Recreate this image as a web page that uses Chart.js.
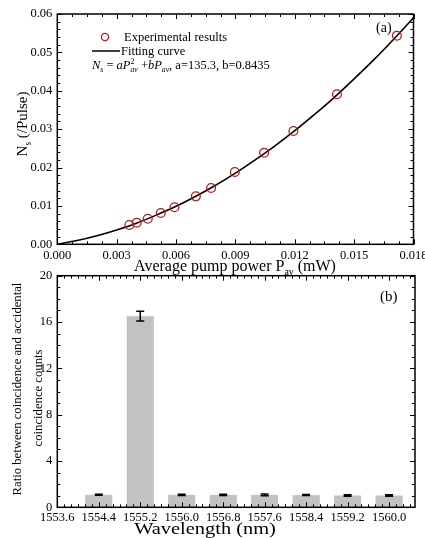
<!DOCTYPE html>
<html>
<head>
<meta charset="utf-8">
<script src="https://cdn.jsdelivr.net/npm/chart.js@4/dist/chart.umd.min.js"></script>
<style>
  html, body { margin: 0; padding: 0; background: #fff; }
  #wrap { position: relative; width: 425px; height: 538px; overflow: hidden; }
  canvas { position: absolute; left: 0; }
  #power-chart { top: 0; }
  #ratio-chart { top: 262px; }
</style>
</head>
<body>
<div id="wrap">
  <canvas id="power-chart" width="425" height="276"></canvas>
  <canvas id="ratio-chart" width="425" height="276"></canvas>
</div>
<script>
// (a) experimental points
const powerMw = [0.00364, 0.00401, 0.00457, 0.00523, 0.00592, 0.00700, 0.00777, 0.00897, 0.01045, 0.01193, 0.01413, 0.01716];
const photonsPerPulse = [0.00503, 0.00563, 0.00667, 0.00815, 0.00964, 0.0125, 0.01467, 0.01884, 0.02387, 0.02952, 0.03908, 0.05435];

// (a) fitting curve
const fitPower = [0, 0.001, 0.002, 0.003, 0.004, 0.005, 0.006, 0.007, 0.008, 0.009, 0.010, 0.011, 0.012, 0.013, 0.014, 0.015, 0.016, 0.017, 0.018];
const fitPhotons = [0, 0.00098, 0.00223, 0.00375, 0.0055, 0.0076, 0.0099, 0.01253, 0.0154, 0.01855, 0.0220, 0.02565, 0.0296, 0.03384, 0.0383, 0.0431, 0.0481, 0.05344, 0.0590];

const powerTicks = [0, 0.003, 0.006, 0.009, 0.012, 0.015, 0.018];
const photonTicks = [0, 0.01, 0.02, 0.03, 0.04, 0.05, 0.06];

// (b) coincidence / accidental ratio
const wavelengths = [1554.4, 1555.2, 1556.0, 1556.8, 1557.6, 1558.4, 1559.2, 1560.0];
const ratios = [1.08, 16.5, 1.07, 1.07, 1.07, 1.06, 1.02, 1.02];
const ratioErr = [0.05, 0.42, 0.06, 0.06, 0.07, 0.05, 0.06, 0.06];

const wavelengthTicks = [1553.6, 1554.4, 1555.2, 1556.0, 1556.8, 1557.6, 1558.4, 1559.2, 1560.0];
const ratioTicks = [0, 4, 8, 12, 16, 20];

const SERIF = "'Liberation Serif', 'Times New Roman', serif";

function layoutRich(ctx, parts, size) {
  let x = 0, prevStart = 0, prevEnd = 0;
  const items = [];
  parts.forEach((p) => {
    const fs = p.pos ? size * 0.62 : size;
    ctx.font = (p.it ? "italic " : "") + fs + "px " + SERIF;
    const w = ctx.measureText(p.t).width;
    const start = p.stack ? prevStart : x;
    items.push({ t: p.t, pos: p.pos, font: ctx.font, x: start });
    const end = start + w;
    x = p.stack ? Math.max(prevEnd, end) : end;
    prevStart = start;
    prevEnd = end;
  });
  return { items, width: x };
}

// sx stretches the text sideways (the original figure is a bit wide)
function drawRich(ctx, parts, x, y, size, align, sx) {
  sx = sx || 1;
  const lay = layoutRich(ctx, parts, size);
  const off = align === "center" ? -lay.width / 2 : 0;
  ctx.save();
  ctx.translate(x, y);
  ctx.scale(sx, 1);
  ctx.textAlign = "left";
  ctx.textBaseline = "alphabetic";
  ctx.fillStyle = "#000";
  lay.items.forEach((it) => {
    ctx.font = it.font;
    let dy = 0;
    if (it.pos === "sub") dy = size * 0.28;
    if (it.pos === "sup") dy = -size * 0.42;
    ctx.fillText(it.t, off + it.x, dy);
  });
  ctx.restore();
}

function drawRotated(ctx, parts, cx, cy, size) {
  ctx.save();
  ctx.translate(cx, cy);
  ctx.rotate(-Math.PI / 2);
  drawRich(ctx, parts, 0, size * 0.33, size, "center");
  ctx.restore();
}

// inward major + minor ticks on all four sides, plus the frame
const frameTicks = {
  id: "frameTicks",
  afterDatasetsDraw(chart, args, opts) {
    const ctx = chart.ctx;
    const a = chart.chartArea;
    const xs = chart.scales.x, ys = chart.scales.y;
    ctx.save();
    ctx.strokeStyle = "#000";
    ctx.lineWidth = 1;

    const xMaj = xs.ticks.map((t) => t.value);
    const yMaj = ys.ticks.map((t) => t.value);
    const xStep = (xMaj[1] - xMaj[0]) / opts.xSub;
    const yStep = (yMaj[1] - yMaj[0]) / opts.ySub;

    const tick = (x1, y1, x2, y2) => {
      ctx.beginPath();
      ctx.moveTo(x1, y1);
      ctx.lineTo(x2, y2);
      ctx.stroke();
    };

    for (let v = xs.min, k = 0; v <= xs.max + 1e-9; k++, v = xMaj[0] + k * xStep) {
      if (v < xs.min - 1e-9) continue;
      const px = Math.round(xs.getPixelForValue(v)) + 0.5;
      const len = k % opts.xSub === 0 ? 5 : 3;
      tick(px, a.bottom, px, a.bottom - len);
      tick(px, a.top, px, a.top + len);
    }
    for (let v = ys.min, k = 0; v <= ys.max + 1e-9; k++, v = yMaj[0] + k * yStep) {
      const py = Math.round(ys.getPixelForValue(v)) + 0.5;
      const len = k % opts.ySub === 0 ? 5 : 3;
      tick(a.left, py, a.left + len, py);
      tick(a.right, py, a.right - len, py);
    }

    ctx.lineWidth = 1.5;
    ctx.strokeRect(a.left, a.top, a.right - a.left, a.bottom - a.top);
    ctx.restore();
  }
};

function fixedAxis(width, height) {
  return function (scale) {
    if (width != null) scale.width = width;
    if (height != null) scale.height = height;
    scale.paddingLeft = 0;
    scale.paddingRight = 0;
    scale.paddingTop = 0;
    scale.paddingBottom = 0;
  };
}

function buildPowerChart() {
  const canvas = document.getElementById("power-chart");

  const labels = {
    id: "powerLabels",
    afterDraw(chart) {
      const ctx = chart.ctx;
      ctx.save();
      // axis titles
      drawRich(ctx, [
        { t: "Average pump power P" },
        { t: "av", pos: "sub" },
        { t: " (mW)" }
      ], 235, 271, 16, "center");
      drawRotated(ctx, [
        { t: "N" },
        { t: "s", pos: "sub" },
        { t: " (/Pulse)" }
      ], 22, 124, 15);

      // legend
      ctx.strokeStyle = "#b01c1c";
      ctx.lineWidth = 1.3;
      ctx.beginPath();
      ctx.arc(105, 37, 3.6, 0, Math.PI * 2);
      ctx.stroke();
      drawRich(ctx, [{ t: "Experimental results" }], 124, 41, 12.5, "left");
      ctx.strokeStyle = "#000";
      ctx.lineWidth = 1.5;
      ctx.beginPath();
      ctx.moveTo(92, 51);
      ctx.lineTo(120, 51);
      ctx.stroke();
      drawRich(ctx, [{ t: "Fitting curve" }], 121, 55, 12.5, "left");
      drawRich(ctx, [
        { t: "N", it: true },
        { t: "s", it: true, pos: "sub" },
        { t: " = " },
        { t: "aP", it: true },
        { t: "2", pos: "sup" },
        { t: "av", it: true, pos: "sub", stack: true },
        { t: " +" },
        { t: "bP", it: true },
        { t: "av", it: true, pos: "sub" },
        { t: ", a=135.3, b=0.8435" }
      ], 92, 69, 12, "left", 1.04);

      drawRich(ctx, [{ t: "(a)" }], 376, 32, 14, "left");
      ctx.restore();
    }
  };

  new Chart(canvas, {
    data: {
      datasets: [
        {
          type: "line",
          label: "Fitting curve",
          data: fitPower.map((x, i) => ({ x: x, y: fitPhotons[i] })),
          borderColor: "#000",
          borderWidth: 1.6,
          pointRadius: 0,
          cubicInterpolationMode: "monotone",
          fill: false,
          order: 2
        },
        {
          type: "scatter",
          label: "Experimental results",
          data: powerMw.map((x, i) => ({ x: x, y: photonsPerPulse[i] })),
          borderColor: "#b01c1c",
          backgroundColor: "rgba(0,0,0,0)",
          borderWidth: 1.3,
          pointRadius: 4.4,
          order: 1
        }
      ]
    },
    options: {
      responsive: false,
      animation: false,
      layout: { padding: { top: 14, right: 11.5, left: 0, bottom: 0 } },
      scales: {
        x: {
          type: "linear",
          min: 0,
          max: 0.018,
          afterBuildTicks: (s) => { s.ticks = powerTicks.map((v) => ({ value: v })); },
          afterFit: fixedAxis(null, 31.7),
          grid: { display: false, drawTicks: false },
          border: { display: false },
          ticks: {
            padding: 4,
            maxRotation: 0,
            autoSkip: false,
            color: "#000",
            font: { family: SERIF, size: 12.5 },
            callback: (v) => Number(v).toFixed(3)
          }
        },
        y: {
          type: "linear",
          min: 0,
          max: 0.06,
          afterBuildTicks: (s) => { s.ticks = photonTicks.map((v) => ({ value: v })); },
          afterFit: fixedAxis(57.3, null),
          grid: { display: false, drawTicks: false },
          border: { display: false },
          ticks: {
            padding: 5,
            autoSkip: false,
            color: "#000",
            font: { family: SERIF, size: 12.5 },
            callback: (v) => Number(v).toFixed(2)
          }
        }
      },
      plugins: {
        legend: { display: false },
        tooltip: { enabled: false },
        frameTicks: { xSub: 4, ySub: 5 }
      }
    },
    plugins: [frameTicks, labels]
  });
}

function buildRatioChart() {
  const canvas = document.getElementById("ratio-chart");

  const extras = {
    id: "ratioExtras",
    afterDatasetsDraw(chart) {
      const ctx = chart.ctx;
      const xs = chart.scales.x, ys = chart.scales.y;
      ctx.save();
      ctx.strokeStyle = "#000";
      ctx.lineWidth = 1.5;
      wavelengths.forEach((w, i) => {
        const px = xs.getPixelForValue(w);
        const top = ys.getPixelForValue(ratios[i] + ratioErr[i]);
        const bot = ys.getPixelForValue(ratios[i] - ratioErr[i]);
        ctx.beginPath();
        ctx.moveTo(px, top);
        ctx.lineTo(px, bot);
        ctx.moveTo(px - 4, top);
        ctx.lineTo(px + 4, top);
        ctx.moveTo(px - 4, bot);
        ctx.lineTo(px + 4, bot);
        ctx.stroke();
      });
      ctx.restore();
    },
    afterDraw(chart) {
      const ctx = chart.ctx;
      ctx.save();
      drawRich(ctx, [{ t: "Wavelength (nm)" }], 205, 272, 17, "center", 1.2);
      drawRotated(ctx, [{ t: "Ratio between coincidence and accidental" }], 17, 127, 12.7);
      drawRotated(ctx, [{ t: "coincidence counts" }], 38, 136, 12.7);
      drawRich(ctx, [{ t: "(b)" }], 380, 39, 15, "left");
      ctx.restore();
    }
  };

  new Chart(canvas, {
    type: "bar",
    data: {
      datasets: [
        {
          label: "Ratio",
          data: wavelengths.map((w, i) => ({ x: w, y: ratios[i] })),
          backgroundColor: "#c2c2c2",
          borderColor: "#d4d4d4",
          borderWidth: 0.5,
          barThickness: 27
        }
      ]
    },
    options: {
      responsive: false,
      animation: false,
      layout: { padding: { top: 13.7, right: 10, left: 0, bottom: 0 } },
      scales: {
        x: {
          type: "linear",
          offset: false,
          min: 1553.6,
          max: 1560.5,
          afterBuildTicks: (s) => { s.ticks = wavelengthTicks.map((v) => ({ value: v })); },
          afterFit: fixedAxis(null, 30.7),
          grid: { display: false, drawTicks: false },
          border: { display: false },
          ticks: {
            padding: 3,
            maxRotation: 0,
            autoSkip: false,
            color: "#000",
            font: { family: SERIF, size: 12.5 },
            callback: (v) => Number(v).toFixed(1)
          }
        },
        y: {
          type: "linear",
          min: 0,
          max: 20,
          afterBuildTicks: (s) => { s.ticks = ratioTicks.map((v) => ({ value: v })); },
          afterFit: fixedAxis(57.3, null),
          grid: { display: false, drawTicks: false },
          border: { display: false },
          ticks: {
            padding: 5,
            autoSkip: false,
            color: "#000",
            font: { family: SERIF, size: 12.5 }
          }
        }
      },
      plugins: {
        legend: { display: false },
        tooltip: { enabled: false },
        frameTicks: { xSub: 6, ySub: 4 }
      }
    },
    plugins: [frameTicks, extras]
  });
}

document.addEventListener("DOMContentLoaded", function () {
  buildPowerChart();
  buildRatioChart();
});
</script>
</body>
</html>
